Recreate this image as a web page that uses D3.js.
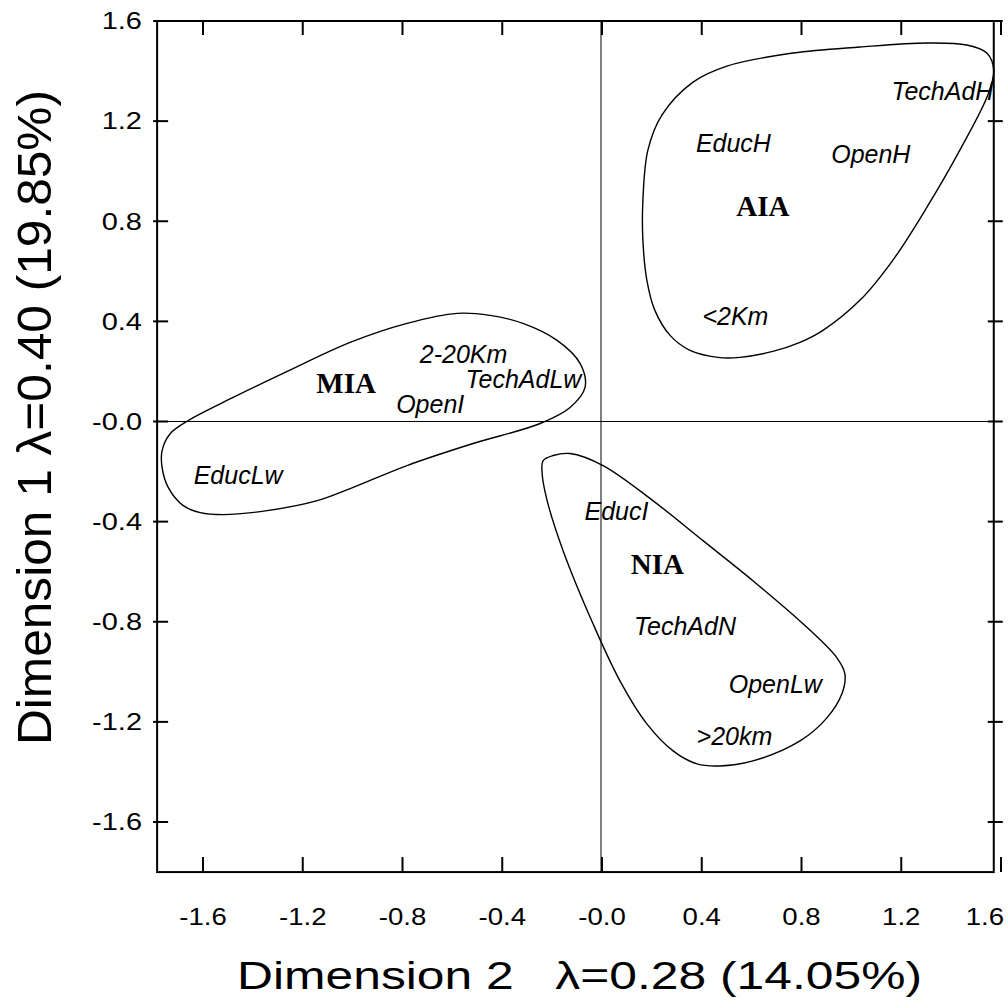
<!DOCTYPE html>
<html>
<head>
<meta charset="utf-8">
<script src="https://cdn.jsdelivr.net/npm/d3@7"></script>
<style>
    body { margin: 0; background: #fff; }
    text { font-family: "Liberation Sans", Arial, sans-serif; fill: #000; }
    .pointLabel { font-style: italic; font-size: 25px; }
    .groupLabel { font-family: "Liberation Serif", "Times New Roman", serif; font-weight: bold; font-size: 29px; }
</style>
</head>
<body>
<script>
(function(){

//tick values and their printed labels
var xTickVals = [-1.6, -1.2, -0.8, -0.4, 0, 0.4, 0.8, 1.2, 1.6];
var xTickLabels = ["-1.6", "-1.2", "-0.8", "-0.4", "-0.0", "0.4", "0.8", "1.2", "1.6"];
var yTickVals = [1.6, 1.2, 0.8, 0.4, 0, -0.4, -0.8, -1.2, -1.6];
var yTickLabels = ["1.6", "1.2", "0.8", "0.4", "-0.0", "-0.4", "-0.8", "-1.2", "-1.6"];

//frame extents in data units
var xMin = -1.784, xMax = 1.571,
    yMin = -1.8, yMax = 1.6;

//category points (dimension 2 on x, dimension 1 on y)
var pointNames = ["TechAdH", "EducH", "OpenH", "<2Km", "2-20Km", "TechAdLw", "OpenI", "EducLw", "EducI", "TechAdN", "OpenLw", ">20km"];
var pointDim2 = [1.365, 0.527, 1.078, 0.535, -0.555, -0.315, -0.689, -1.459, 0.058, 0.333, 0.695, 0.531];
var pointDim1 = [1.284, 1.076, 1.032, 0.384, 0.232, 0.132, 0.032, -0.248, -0.392, -0.852, -1.084, -1.292];

//group labels
var groupNames = ["AIA", "MIA", "NIA"];
var groupDim2 = [0.645, -1.026, 0.222];
var groupDim1 = [0.82, 0.112, -0.608];

//hand drawn group outlines
var aiaOutline = [[0.164, 0.884], [0.184, 1.084], [0.240, 1.224], [0.365, 1.356], [0.501, 1.42], [0.766, 1.472], [1.034, 1.496], [1.303, 1.512], [1.463, 1.504], [1.543, 1.472], [1.571, 1.404], [1.547, 1.304], [1.435, 1.084], [1.303, 0.856], [1.166, 0.644], [1.034, 0.484], [0.886, 0.364], [0.794, 0.316], [0.685, 0.28], [0.553, 0.256], [0.465, 0.256], [0.353, 0.284], [0.273, 0.344], [0.212, 0.444], [0.180, 0.564], [0.164, 0.724]];
var miaOutline = [[-0.581, 0.432], [-0.782, 0.392], [-1.010, 0.316], [-1.279, 0.192], [-1.479, 0.096], [-1.659, 0.004], [-1.731, -0.048], [-1.764, -0.116], [-1.764, -0.184], [-1.739, -0.264], [-1.679, -0.336], [-1.611, -0.364], [-1.519, -0.372], [-1.343, -0.356], [-1.142, -0.316], [-1.010, -0.268], [-0.782, -0.176], [-0.517, -0.088], [-0.248, -0.008], [-0.128, 0.056], [-0.068, 0.136], [-0.088, 0.232], [-0.180, 0.324], [-0.317, 0.392], [-0.449, 0.424]];
var niaOutline = [[-0.236, -0.156], [-0.196, -0.136], [-0.128, -0.128], [0.004, -0.176], [0.204, -0.316], [0.405, -0.476], [0.605, -0.636], [0.806, -0.808], [0.942, -0.944], [0.974, -1.008], [0.962, -1.088], [0.902, -1.184], [0.794, -1.276], [0.605, -1.356], [0.473, -1.376], [0.381, -1.368], [0.285, -1.316], [0.180, -1.208], [0.072, -1.036], [-0.036, -0.808], [-0.156, -0.516], [-0.220, -0.316], [-0.240, -0.208]];

var width = 1008,
    height = 1001;

//scales pinned to the tick positions
var x = d3.scaleLinear().domain([-1.6, 1.6]).range([203, 1001]);
var y = d3.scaleLinear().domain([-1.6, 1.6]).range([822, 21]);

var svg = d3.select("body")
    .append("svg")
    .attr("width", width)
    .attr("height", height);

//zero lines
svg.append("line")
    .attr("x1", x(xMin)).attr("x2", x(xMax))
    .attr("y1", y(0)).attr("y2", y(0))
    .attr("stroke", "#000").attr("stroke-width", 1);
svg.append("line")
    .attr("x1", x(0) - 1).attr("x2", x(0) - 1)
    .attr("y1", y(yMax)).attr("y2", y(yMin))
    .attr("stroke", "#000").attr("stroke-width", 1);

//group outlines
var outline = d3.line()
    .x(function(d){ return x(d[0]); })
    .y(function(d){ return y(d[1]); })
    .curve(d3.curveCatmullRomClosed.alpha(0.5));

svg.selectAll(".hull")
    .data([aiaOutline, miaOutline, niaOutline])
    .enter()
    .append("path")
    .attr("class", "hull")
    .attr("d", outline)
    .attr("fill", "none")
    .attr("stroke", "#000")
    .attr("stroke-width", 1.4);

//frame
svg.append("rect")
    .attr("x", x(xMin))
    .attr("y", y(yMax))
    .attr("width", x(xMax) - x(xMin))
    .attr("height", y(yMin) - y(yMax))
    .attr("fill", "none")
    .attr("stroke", "#000")
    .attr("stroke-width", 2);

//ticks on all four sides
var tickG = svg.append("g").attr("stroke", "#000").attr("stroke-width", 2);
tickG.selectAll(".tickBottom")
    .data(xTickVals).enter().append("line")
    .attr("x1", function(d){ return x(d); }).attr("x2", function(d){ return x(d); })
    .attr("y1", y(yMin)).attr("y2", y(yMin) - 15);
tickG.selectAll(".tickTop")
    .data(xTickVals).enter().append("line")
    .attr("x1", function(d){ return x(d); }).attr("x2", function(d){ return x(d); })
    .attr("y1", y(yMax)).attr("y2", y(yMax) + 14);
tickG.selectAll(".tickLeft")
    .data(yTickVals).enter().append("line")
    .attr("x1", x(xMin) - 4).attr("x2", x(xMin) + 11)
    .attr("y1", function(d){ return y(d); }).attr("y2", function(d){ return y(d); });
tickG.selectAll(".tickRight")
    .data(yTickVals).enter().append("line")
    .attr("x1", x(xMax) - 6).attr("x2", x(xMax) + 9)
    .attr("y1", function(d){ return y(d); }).attr("y2", function(d){ return y(d); });

//tick labels (the last one is pushed inside the page edge)
var lastX = xTickVals.length - 1;
svg.selectAll(".xLabel")
    .data(xTickVals).enter().append("text")
    .attr("class", "xLabel")
    .attr("text-anchor", function(d, i){ return i == lastX ? "end" : "middle"; })
    .attr("font-size", 23)
    .attr("transform", function(d, i){
        var px = i == lastX ? width - 4 : x(d);
        return "translate(" + px + ",925) scale(1.2,1)";
    })
    .text(function(d, i){ return xTickLabels[i]; });

svg.selectAll(".yLabel")
    .data(yTickVals).enter().append("text")
    .attr("class", "yLabel")
    .attr("text-anchor", "end")
    .attr("font-size", 23)
    .attr("dy", "0.36em")
    .attr("transform", function(d){ return "translate(142," + y(d) + ") scale(1.26,1)"; })
    .text(function(d, i){ return yTickLabels[i]; });

//axis titles
svg.append("text")
    .attr("x", 237)
    .attr("y", 989)
    .attr("font-size", 39)
    .attr("textLength", 685)
    .attr("lengthAdjust", "spacingAndGlyphs")
    .style("white-space", "pre")
    .text("Dimension 2   \u03bb=0.28 (14.05%)");

svg.append("text")
    .attr("transform", "translate(51,745) rotate(-90)")
    .attr("font-size", 49)
    .attr("textLength", 655)
    .attr("lengthAdjust", "spacingAndGlyphs")
    .text("Dimension 1 \u03bb=0.40 (19.85%)");

//category labels
svg.selectAll(".pointLabel")
    .data(pointNames).enter().append("text")
    .attr("class", "pointLabel")
    .attr("text-anchor", "middle")
    .attr("x", function(d, i){ return x(pointDim2[i]); })
    .attr("y", function(d, i){ return y(pointDim1[i]); })
    .text(function(d){ return d; });

svg.selectAll(".groupLabel")
    .data(groupNames).enter().append("text")
    .attr("class", "groupLabel")
    .attr("text-anchor", "middle")
    .attr("x", function(d, i){ return x(groupDim2[i]); })
    .attr("y", function(d, i){ return y(groupDim1[i]); })
    .text(function(d){ return d; });

})();
</script>
</body>
</html>
